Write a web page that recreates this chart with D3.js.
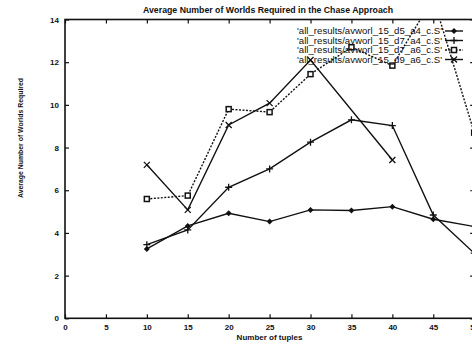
<!DOCTYPE html>
<html>
<head>
<meta charset="utf-8">
<script src="https://cdn.jsdelivr.net/npm/d3@7"></script>
<style>
  body { margin: 0; background: #fff; }
  svg { display: block; font-family: "Liberation Sans", Helvetica, Arial, sans-serif; }
</style>
</head>
<body>
<svg width="472" height="345"></svg>
<script>
// values
const tuples = [10, 15, 20, 25, 30, 35, 40, 45, 50];
const d5a4 = [3.25, 4.33, 4.92, 4.53, 5.08, 5.05, 5.23, 4.64, 4.3];
const d7a4 = [3.45, 4.14, 6.14, 7.0, 8.25, 9.3, 9.03, 4.84, 3.05];
const d7a6 = [5.59, 5.75, 9.8, 9.66, 11.44, 12.7, 11.84, 15.0, 8.7];
const d9a6 = [7.19, 5.08, 9.06, 10.08, 12.1, null, 7.42, null, null];
const xTicks = [0, 5, 10, 15, 20, 25, 30, 35, 40, 45, 50];
const yTicks = [0, 2, 4, 6, 8, 10, 12, 14];
const seriesNames = [
  "'all_results/avworl_15_d5_a4_c.S'",
  "'all_results/avworl_15_d7_a4_c.S'",
  "'all_results/avworl_15_d7_a6_c.S'",
  "'all_results/avworl_15_d9_a6_c.S'"
];

const [pL, pR, pT, pB] = [65, 474.2, 19.5, 318.3];
const svg = d3.select('svg');
const x = d3.scaleLinear().domain([0, 50]).range([pL, pR]);
const y = d3.scaleLinear().domain([0, 14]).range([pB, pT]);

const series = [
  {name: seriesNames[0], vals: d5a4, dash: null, mark: 'diamond'},
  {name: seriesNames[1], vals: d7a4, dash: null, mark: 'plus'},
  {name: seriesNames[2], vals: d7a6, dash: '2,1.5', mark: 'box'},
  {name: seriesNames[3], vals: d9a6, dash: null, mark: 'cross'}
];

const marker = (g, type, px, py) => {
  if (type === 'diamond') {
    g.append('path').attr('d', `M${px},${py-3}L${px+3},${py}L${px},${py+3}L${px-3},${py}Z`)
      .attr('fill', '#111');
  } else if (type === 'plus') {
    g.append('path').attr('d', `M${px-3.5},${py}H${px+3.5}M${px},${py-3.5}V${py+3.5}`)
      .attr('stroke', '#111').attr('stroke-width', 1.3);
  } else if (type === 'box') {
    g.append('rect').attr('x', px-2.5).attr('y', py-2.5).attr('width', 5).attr('height', 5)
      .attr('fill', '#fff').attr('stroke', '#111').attr('stroke-width', 1.5);
  } else {
    g.append('path').attr('d', `M${px-3},${py-3}L${px+3},${py+3}M${px-3},${py+3}L${px+3},${py-3}`)
      .attr('stroke', '#111').attr('stroke-width', 1.3);
  }
};

svg.append('defs').append('clipPath').attr('id', 'plot')
  .append('rect').attr('x', pL).attr('y', pT)
  .attr('width', pR - pL).attr('height', pB - pT);

// axes, ticks pointing inward on all four sides
const tickFont = g => g.selectAll('text')
  .attr('font-size', 8).attr('font-weight', 'bold').attr('fill', '#111');
svg.append('g')
  .attr('transform', `translate(0,${pB})`)
  .call(d3.axisBottom(x).tickValues(xTicks).tickSizeInner(-4).tickSizeOuter(0).tickPadding(6))
  .call(tickFont)
  .call(g => g.select('.domain').remove());
svg.append('g')
  .attr('transform', `translate(0,${pT})`)
  .call(d3.axisTop(x).tickValues(xTicks).tickSizeInner(-4).tickSizeOuter(0).tickFormat(''))
  .call(g => g.select('.domain').remove());
svg.append('g')
  .attr('transform', `translate(${pL},0)`)
  .call(d3.axisLeft(y).tickValues(yTicks).tickSizeInner(-4).tickSizeOuter(0).tickPadding(6))
  .call(tickFont)
  .call(g => g.select('.domain').remove());
svg.append('g')
  .attr('transform', `translate(${pR},0)`)
  .call(d3.axisRight(y).tickValues(yTicks).tickSizeInner(-4).tickSizeOuter(0).tickFormat(''))
  .call(g => g.select('.domain').remove());
svg.selectAll('.tick line').attr('stroke', '#111').attr('stroke-width', 1.2);

svg.append('rect')
  .attr('x', pL).attr('y', pT)
  .attr('width', pR - pL).attr('height', pB - pT)
  .attr('fill', 'none').attr('stroke', '#111').attr('stroke-width', 1.6);

// series
const plot = svg.append('g').attr('clip-path', 'url(#plot)');
const line = d3.line().x(d => x(d[0])).y(d => y(d[1]));
series.forEach(s => {
  const pts = tuples.map((t, i) => [t, s.vals[i]]).filter(d => d[1] != null);
  plot.append('path')
    .datum(pts)
    .attr('fill', 'none')
    .attr('stroke', '#111')
    .attr('stroke-width', 1.4)
    .attr('stroke-dasharray', s.dash)
    .attr('d', line);
  pts.filter(d => d[1] <= 14).forEach(d => marker(plot, s.mark, x(d[0]), y(d[1])));
});

// key
series.forEach((s, i) => {
  const ky = 31 + i * 9.5;
  svg.append('text')
    .attr('x', 442).attr('y', ky + 3)
    .attr('text-anchor', 'end')
    .attr('font-size', 8.5)
    .attr('fill', '#111')
    .attr('textLength', 145).attr('lengthAdjust', 'spacingAndGlyphs')
    .text(s.name);
  svg.append('path')
    .attr('d', `M445,${ky}H463`)
    .attr('stroke', '#111').attr('stroke-width', 1.4)
    .attr('stroke-dasharray', s.dash);
  marker(svg, s.mark, 454, ky);
});

// titles
svg.append('text')
  .attr('x', 268).attr('y', 13)
  .attr('text-anchor', 'middle')
  .attr('font-size', 8.5).attr('font-weight', 'bold').attr('fill', '#111')
  .attr('textLength', 250).attr('lengthAdjust', 'spacingAndGlyphs')
  .text('Average Number of Worlds Required in the Chase Approach');
svg.append('text')
  .attr('x', 269.5).attr('y', 340)
  .attr('text-anchor', 'middle')
  .attr('font-size', 8).attr('font-weight', 'bold').attr('fill', '#111')
  .text('Number of tuples');
svg.append('text')
  .attr('transform', 'translate(23,138) rotate(-90)')
  .attr('text-anchor', 'middle')
  .attr('font-size', 7.5).attr('font-weight', 'bold').attr('fill', '#111')
  .attr('textLength', 120).attr('lengthAdjust', 'spacingAndGlyphs')
  .text('Average Number of Worlds Required');
</script>
</body>
</html>
